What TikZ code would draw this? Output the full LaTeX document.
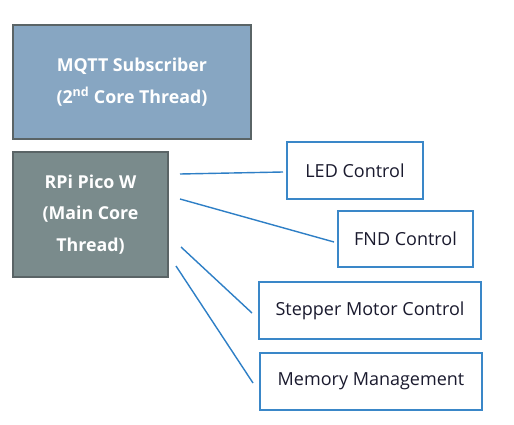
\documentclass[tikz,border=0pt]{standalone}
\usepackage{fontspec}
\setmainfont{Open Sans}
\definecolor{mqttfill}{HTML}{87A6C2}
\definecolor{picofill}{HTML}{7A8B8C}
\definecolor{darkedge}{HTML}{5A6466}
\definecolor{blueedge}{HTML}{3A87C8}
\definecolor{blueline}{HTML}{2E7FC6}
\definecolor{txt}{HTML}{1A1A2E}
\tikzset{
  corebox/.style={draw=darkedge, line width=2pt, text=white, font=\fontsize{17.8}{31.5}\selectfont\bfseries, align=center, inner sep=0pt},
  taskbox/.style={draw=blueedge, line width=1.6pt, fill=white, text=txt, font=\fontsize{18}{20}\selectfont, inner sep=0pt, minimum height=57pt},
  link/.style={draw=blueline, line width=1.4pt}
}
\begin{document}
\begin{tikzpicture}[x=1pt,y=-1pt]
\useasboundingbox (0,0) rectangle (514,425);
\fill[white] (0,0) rectangle (514,425);
\node[corebox, fill=mqttfill, minimum width=238pt, minimum height=114pt] (mqtt) at (132,82) {MQTT Subscriber\\(2\textsuperscript{nd} Core Thread)};
\node[corebox, fill=picofill, minimum width=155pt, minimum height=125pt] (pico) at (90.5,214.5) {RPi Pico W\\(Main Core\\Thread)};
\node[taskbox, minimum width=136pt] (led) at (355,170.5) {LED Control};
\node[taskbox, minimum width=135pt, minimum height=56pt] (fnd) at (405.5,239) {FND Control};
\node[taskbox, minimum width=222pt] (step) at (370,310.5) {Stepper Motor Control};
\node[taskbox, minimum width=222pt] (mem) at (371,381.5) {Memory Management};
\coordinate (a1) at (180,174); \coordinate (b1) at (283,172);
\coordinate (a2) at (180,199); \coordinate (b2) at (334,242);
\coordinate (a3) at (181,247); \coordinate (b3) at (252,313);
\coordinate (a4) at (176,266); \coordinate (b4) at (253,383);
\draw[link] (a1) -- (b1);
\draw[link] (a2) -- (b2);
\draw[link] (a3) -- (b3);
\draw[link] (a4) -- (b4);
\end{tikzpicture}
\end{document}
